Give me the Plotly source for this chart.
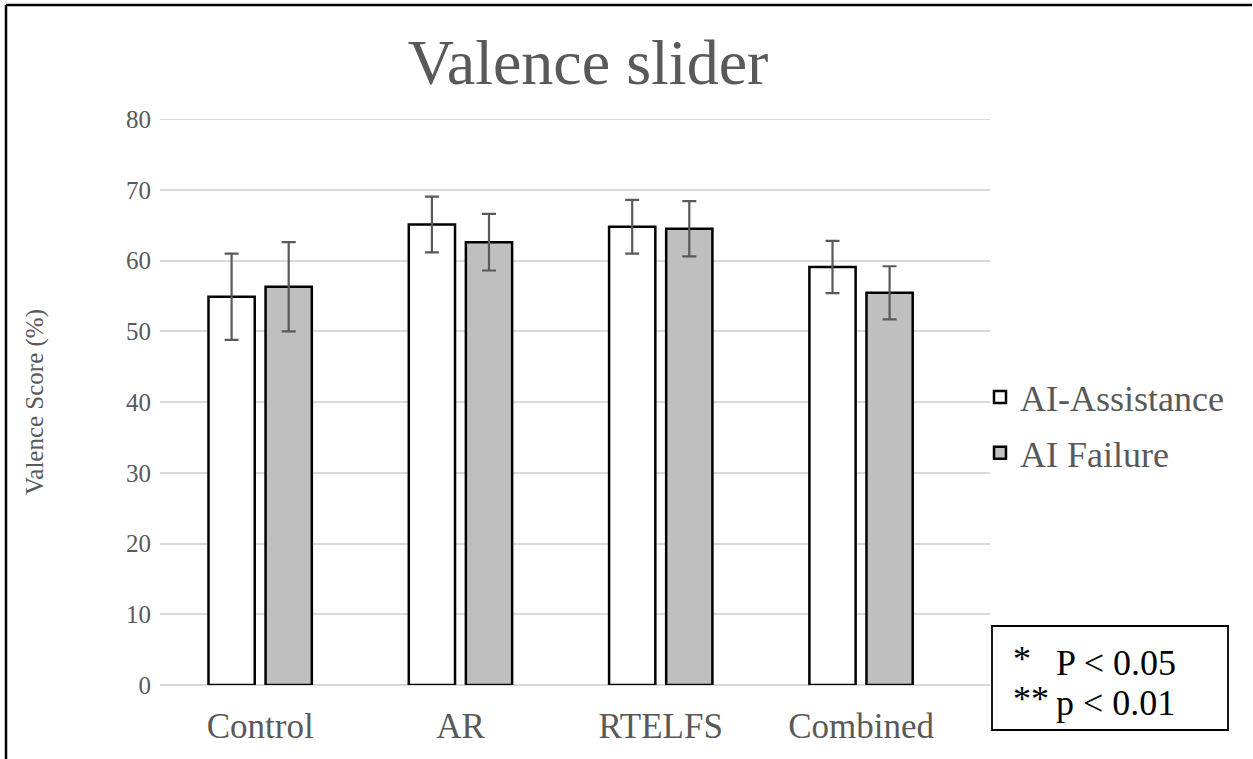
import plotly.graph_objects as go

categories = ["Control", "AR", "RTELFS", "Combined"]
assist_vals = [54.9, 65.1, 64.8, 59.1]
assist_err = [6.1, 3.95, 3.8, 3.7]
failure_vals = [56.3, 62.6, 64.5, 55.45]
failure_err = [6.3, 4.0, 3.9, 3.75]
y_ticks = [0, 10, 20, 30, 40, 50, 60, 70, 80]

FONT = "Liberation Serif, Times New Roman, serif"
GRAY = "#595959"

# pixel layout helpers (plot area 160..990 x, 119..685 y)
L, R, T, B = 160, 990, 119, 685
W, H = R - L, B - T
CAT_W = 200.3
def px(x):
    return (x - L) / W
def py(y):
    return (B - y) / H

fig = go.Figure()
fig.add_trace(go.Bar(
    name="AI-Assistance", x=categories, y=assist_vals, legendgroup="a",
    marker=dict(color="#FFFFFF", line=dict(color="#000000", width=2.5)),
    error_y=dict(type="data", array=assist_err, color=GRAY, thickness=2.2, width=7),
))
fig.add_trace(go.Bar(
    name="AI Failure", x=categories, y=failure_vals, legendgroup="b",
    marker=dict(color="#BFBFBF", line=dict(color="#000000", width=2.5)),
    error_y=dict(type="data", array=failure_err, color=GRAY, thickness=2.2, width=7),
))

shapes = [
    # top gridline (at the axis range edge)
    dict(type="line", xref="paper", yref="y", x0=0, x1=1, y0=y_ticks[-1], y1=y_ticks[-1],
         line=dict(color="#D9D9D9", width=1.5), layer="below"),
    dict(type="line", xref="paper", yref="paper", x0=px(6), x1=px(1252), y0=py(5), y1=py(5),
         line=dict(color="#000000", width=2.5)),
    dict(type="line", xref="paper", yref="paper", x0=px(6), x1=px(6), y0=py(5), y1=py(762),
         line=dict(color="#000000", width=2.5)),
    dict(type="rect", xref="paper", yref="paper", x0=px(992), x1=px(1228), y0=py(730), y1=py(626),
         line=dict(color="#000000", width=1.8), fillcolor="rgba(0,0,0,0)"),
]

ANN_SIZE = 36
annotations = [
    dict(text="Valence Score (%)", textangle=-90, xref="paper", yref="paper",
         x=px(35), y=py(402), xanchor="center", yanchor="middle", showarrow=False,
         font=dict(family=FONT, size=25, color=GRAY)),
    dict(text="*", xref="paper", yref="paper", x=px(1011), y=py(659), xanchor="left", yanchor="middle",
         showarrow=False, font=dict(family=FONT, size=ANN_SIZE, color="#000000")),
    dict(text="P < 0.05", xref="paper", yref="paper", x=px(1054), y=py(663), xanchor="left", yanchor="middle",
         showarrow=False, font=dict(family=FONT, size=ANN_SIZE, color="#000000")),
    dict(text="**", xref="paper", yref="paper", x=px(1011), y=py(699), xanchor="left", yanchor="middle",
         showarrow=False, font=dict(family=FONT, size=ANN_SIZE, color="#000000")),
    dict(text="p < 0.01", xref="paper", yref="paper", x=px(1054), y=py(703), xanchor="left", yanchor="middle",
         showarrow=False, font=dict(family=FONT, size=ANN_SIZE, color="#000000")),
]

fig.update_layout(
    width=1253, height=759,
    margin=dict(l=L, r=1253 - R, t=T, b=759 - B),
    paper_bgcolor="#FFFFFF", plot_bgcolor="#FFFFFF",
    barmode="group", bargap=0.43, bargroupgap=0.19,
    title=dict(text="Valence slider", x=588 / 1253, xanchor="center", y=1 - 62 / 759, yanchor="middle",
               font=dict(family=FONT, size=64, color=GRAY)),
    font=dict(family=FONT, color=GRAY),
    xaxis=dict(range=[-0.5, -0.5 + W / CAT_W], showgrid=False, showline=False, zeroline=False, ticks="",
               tickfont=dict(family=FONT, size=35, color=GRAY), ticklabelstandoff=17),
    yaxis=dict(range=[0, 80.02], tickvals=y_ticks, showgrid=True, gridcolor="#D9D9D9", gridwidth=1.5,
               zeroline=True, zerolinecolor="#D9D9D9", zerolinewidth=1.5, showline=False, ticks="",
               tickfont=dict(family=FONT, size=25, color=GRAY), ticklabelstandoff=8),
    legend=dict(x=px(980), y=py(425), xanchor="left", yanchor="middle",
                font=dict(family=FONT, size=36, color=GRAY), bgcolor="rgba(0,0,0,0)",
                itemwidth=30, tracegroupgap=6),
    shapes=shapes, annotations=annotations,
    showlegend=True,
)

fig.write_html("out.html")
